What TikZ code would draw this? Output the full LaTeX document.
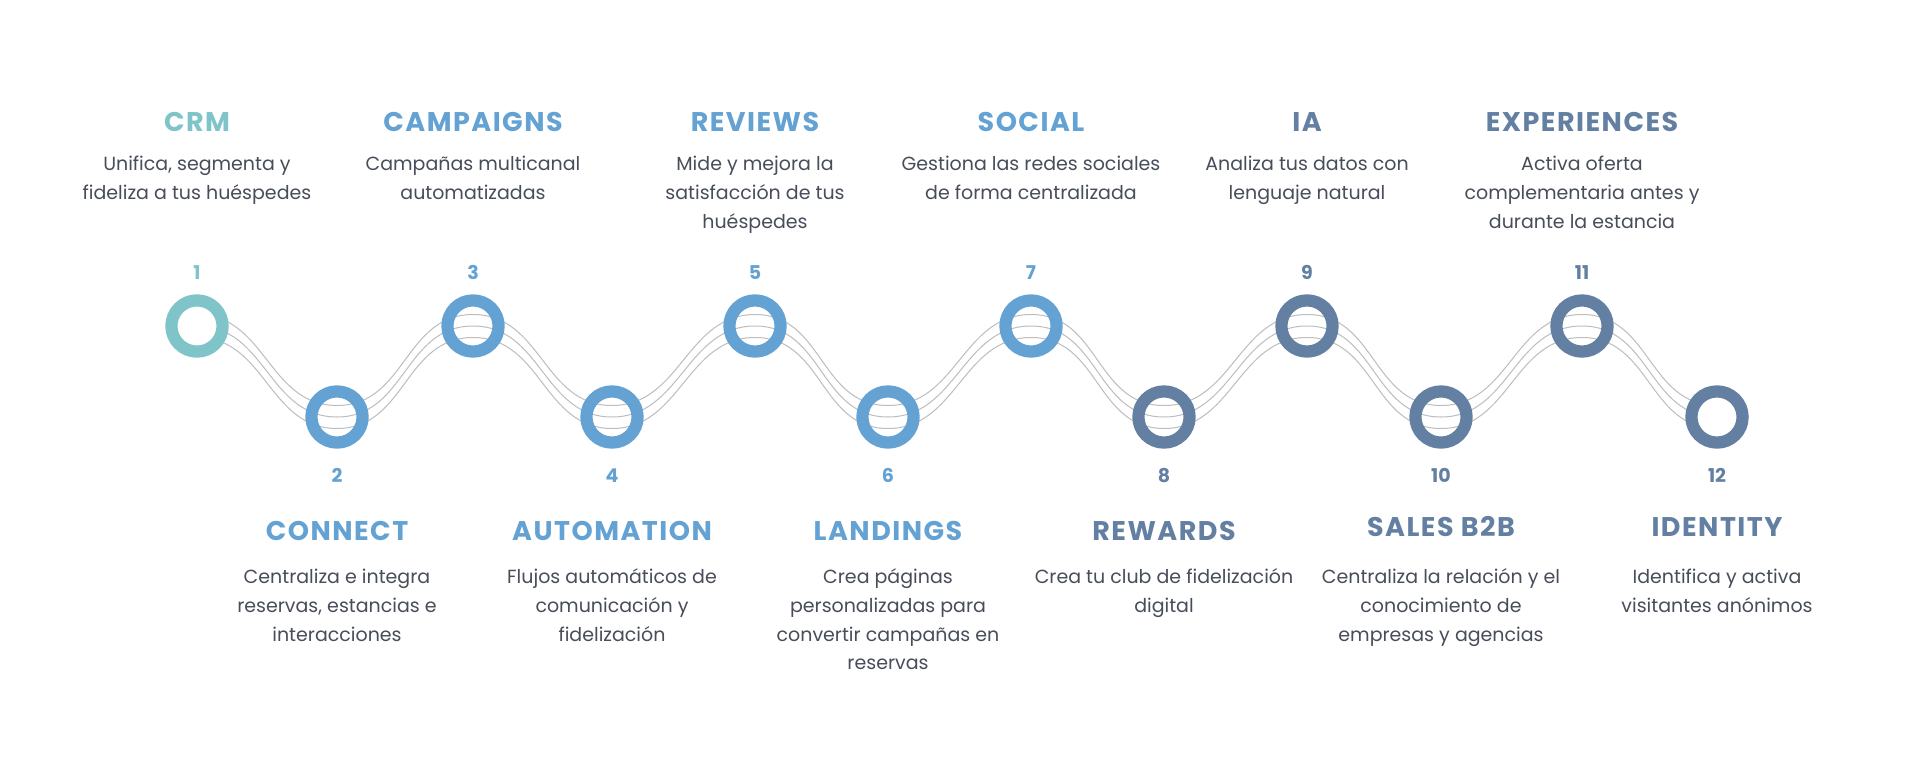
\documentclass[tikz,border=0pt]{standalone}
\usepackage{fontspec}
\setmainfont{Poppins}
\newfontfamily\ttlfont{Poppins}[LetterSpace=5.5]
\usetikzlibrary{backgrounds}
\definecolor{cteal}{HTML}{7EC4C9}
\definecolor{cblue}{HTML}{64A2D3}
\definecolor{cslate}{HTML}{6380A3}
\definecolor{ctxt}{HTML}{474D59}
\definecolor{cwave}{HTML}{BDBDBD}
\begin{document}
\begin{tikzpicture}[x=1pt,y=-1pt,
  ring/.style={circle, inner sep=0pt, minimum size=51.2pt, line width=12.2pt},
  ttl/.style={anchor=base, inner sep=0pt, font=\ttlfont\fontsize{27}{30}\selectfont\bfseries},
  num/.style={anchor=base, inner sep=0pt, font=\fontsize{19}{22}\selectfont\bfseries},
  dsc/.style={anchor=north, inner sep=0pt, align=center, text=ctxt, font=\fontsize{19}{28.8}\selectfont},
  wave/.style={draw=cwave, line width=1pt}]
\useasboundingbox (0,0) rectangle (1920,760);
% circles
\node[ring, draw=cteal, fill=white] (c1) at (197,326) {};
\node[ring, draw=cblue] (c2) at (337,417) {};
\node[ring, draw=cblue] (c3) at (473,326) {};
\node[ring, draw=cblue] (c4) at (612,417) {};
\node[ring, draw=cblue] (c5) at (755,326) {};
\node[ring, draw=cblue] (c6) at (888,417) {};
\node[ring, draw=cblue] (c7) at (1031,326) {};
\node[ring, draw=cslate] (c8) at (1164,417) {};
\node[ring, draw=cslate] (c9) at (1307,326) {};
\node[ring, draw=cslate] (c10) at (1441,417) {};
\node[ring, draw=cslate] (c11) at (1582,326) {};
\node[ring, draw=cslate, fill=white] (c12) at (1717,417) {};
% waves
\begin{pgfonlayer}{background}
\fill[white] (0,0) rectangle (1920,760);
\foreach \s in {-11.5,0,11.5}{
  \draw[wave] ([yshift=\s pt]c1.center)
    .. controls +(69,0) and +(-69,0) .. ([yshift=\s pt]c2.center)
    .. controls +(69,0) and +(-69,0) .. ([yshift=\s pt]c3.center)
    .. controls +(69,0) and +(-69,0) .. ([yshift=\s pt]c4.center)
    .. controls +(69,0) and +(-69,0) .. ([yshift=\s pt]c5.center)
    .. controls +(69,0) and +(-69,0) .. ([yshift=\s pt]c6.center)
    .. controls +(69,0) and +(-69,0) .. ([yshift=\s pt]c7.center)
    .. controls +(69,0) and +(-69,0) .. ([yshift=\s pt]c8.center)
    .. controls +(69,0) and +(-69,0) .. ([yshift=\s pt]c9.center)
    .. controls +(69,0) and +(-69,0) .. ([yshift=\s pt]c10.center)
    .. controls +(69,0) and +(-69,0) .. ([yshift=\s pt]c11.center)
    .. controls +(69,0) and +(-69,0) .. ([yshift=\s pt]c12.center);
}
\end{pgfonlayer}
% numbers
\node[num, text=cteal] (n1) at (197,279.7) {1};
\node[num, text=cblue] (n3) at (473,279.7) {3};
\node[num, text=cblue] (n5) at (755,279.7) {5};
\node[num, text=cblue] (n7) at (1031,279.7) {7};
\node[num, text=cslate] (n9) at (1307,279.7) {9};
\node[num, text=cslate] (n11) at (1582,279.7) {11};
\node[num, text=cblue] (n2) at (337,482) {2};
\node[num, text=cblue] (n4) at (612,482) {4};
\node[num, text=cblue] (n6) at (888,482) {6};
\node[num, text=cslate] (n8) at (1164,482) {8};
\node[num, text=cslate] (n10) at (1441,482) {10};
\node[num, text=cslate] (n12) at (1717,482) {12};
% titles
\node[ttl, text=cteal] (t1) at (197,131.7) {CRM};
\node[ttl, text=cblue] (t3) at (473,131.7) {CAMPAIGNS};
\node[ttl, text=cblue] (t5) at (755,131.7) {REVIEWS};
\node[ttl, text=cblue] (t7) at (1031,131.7) {SOCIAL};
\node[ttl, text=cslate] (t9) at (1307,131.7) {IA};
\node[ttl, text=cslate] (t11) at (1582,131.7) {EXPERIENCES};
\node[ttl, text=cblue] (t2) at (337,540) {CONNECT};
\node[ttl, text=cblue] (t4) at (612,540) {AUTOMATION};
\node[ttl, text=cblue] (t6) at (888,540) {LANDINGS};
\node[ttl, text=cslate] (t8) at (1164,540) {REWARDS};
\node[ttl, text=cslate] (t10) at (1441,536) {SALES B2B};
\node[ttl, text=cslate] (t12) at (1717,536) {IDENTITY};
% descriptions
\node[dsc] (d1) at (197,150.7) {\rule{0pt}{20pt}Unifica, segmenta y\\fideliza a tus huéspedes};
\node[dsc] (d3) at (473,150.7) {\rule{0pt}{20pt}Campañas multicanal\\automatizadas};
\node[dsc] (d5) at (755,150.7) {\rule{0pt}{20pt}Mide y mejora la\\satisfacción de tus\\huéspedes};
\node[dsc] (d7) at (1031,150.7) {\rule{0pt}{20pt}Gestiona las redes sociales\\de forma centralizada};
\node[dsc] (d9) at (1307,150.7) {\rule{0pt}{20pt}Analiza tus datos con\\lenguaje natural};
\node[dsc] (d11) at (1582,150.7) {\rule{0pt}{20pt}Activa oferta\\complementaria antes y\\durante la estancia};
\node[dsc] (d2) at (337,563.2) {\rule{0pt}{20pt}Centraliza e integra\\reservas, estancias e\\interacciones};
\node[dsc] (d4) at (612,563.2) {\rule{0pt}{20pt}Flujos automáticos de\\comunicación y\\fidelización};
\node[dsc] (d6) at (888,563.2) {\rule{0pt}{20pt}Crea páginas\\personalizadas para\\convertir campañas en\\reservas};
\node[dsc] (d8) at (1164,563.2) {\rule{0pt}{20pt}Crea tu club de fidelización\\digital};
\node[dsc] (d10) at (1441,563.2) {\rule{0pt}{20pt}Centraliza la relación y el\\conocimiento de\\empresas y agencias};
\node[dsc] (d12) at (1717,563.2) {\rule{0pt}{20pt}Identifica y activa\\visitantes anónimos};
\end{tikzpicture}
\end{document}
